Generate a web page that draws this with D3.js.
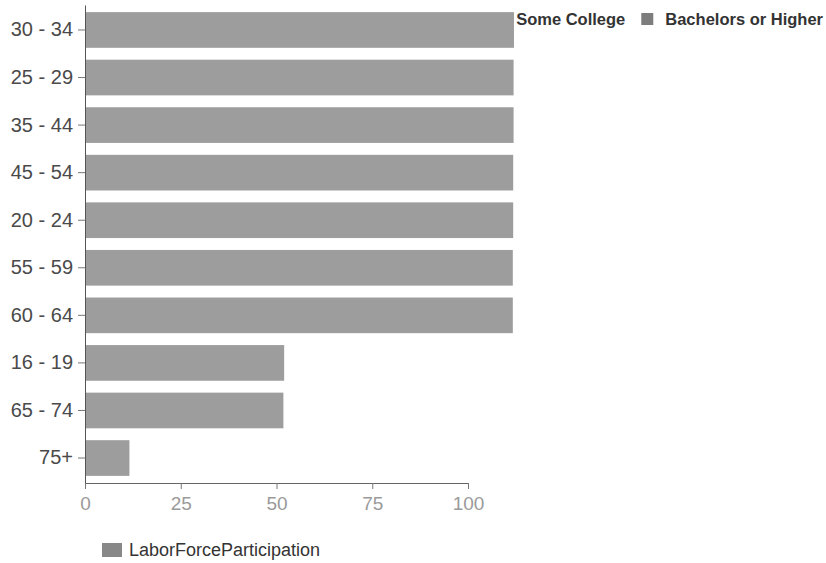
<!DOCTYPE html>
<html>
<head>
<meta charset="utf-8">
<script src="https://cdn.jsdelivr.net/npm/d3@7"></script>
<style>
  body { margin: 0; background: #fff; }
  svg { display: block; font-family: "Liberation Sans", Arial, sans-serif; }
</style>
</head>
<body>
<svg id="chart" width="826" height="563"></svg>
<script>
const ageGroups = ["30 - 34", "25 - 29", "35 - 44", "45 - 54", "20 - 24", "55 - 59", "60 - 64", "16 - 19", "65 - 74", "75+"];
const laborForceParticipation = [112.0, 111.9, 111.9, 111.8, 111.8, 111.7, 111.7, 52.0, 51.8, 11.6];
const educationSeries = ["High School", "Some College", "Bachelors or Higher"];
const xTicks = [0, 25, 50, 75, 100];
const seriesName = "LaborForceParticipation";

const svg = d3.select("#chart");
const barColor = "#9d9d9d";

const x = d3.scaleLinear().domain([0, 100]).range([85, 468]);
const y = d3.scaleBand().domain(ageGroups).range([5, 483]).paddingInner(0.25).paddingOuter(0.15);

// Top legend (drawn first, partly hidden under bars)
const legColors = ["#9d9d9d", "#9d9d9d", "#7d7d7d"];
const legFont = 16.5;
const leg = svg.append("g");
const tmp = svg.append("text").attr("font-size", legFont).attr("font-weight", "bold");
const widths = educationSeries.map(s => { tmp.text(s); return tmp.node().getComputedTextLength(); });
tmp.remove();
let cur = 823;
const positions = [];
for (let i = educationSeries.length - 1; i >= 0; i--) {
  const textX = cur - widths[i];
  const swX = textX - 24;
  positions[i] = { textX, swX };
  cur = swX - 16;
}
educationSeries.forEach((s, i) => {
  leg.append("rect").attr("x", positions[i].swX).attr("y", 13).attr("width", 12).attr("height", 12)
    .attr("fill", legColors[i]);
  leg.append("text").attr("x", positions[i].textX).attr("y", 25)
    .attr("font-size", legFont).attr("font-weight", "bold").attr("fill", "#333").text(s);
});

// Bars
svg.append("g").selectAll("rect").data(ageGroups).join("rect")
  .attr("x", x(0))
  .attr("y", d => y(d))
  .attr("width", (d, i) => x(laborForceParticipation[i]) - x(0))
  .attr("height", y.bandwidth())
  .attr("fill", barColor);

// Axes
const yAxis = svg.append("g").attr("transform", `translate(${x(0)},0)`)
  .call(d3.axisLeft(y).tickSize(7).tickSizeOuter(0).tickPadding(5));
yAxis.select(".domain").attr("stroke", "#555");
yAxis.selectAll(".tick line").attr("stroke", "#777");
yAxis.selectAll("text").attr("font-size", 20).attr("fill", "#4a4a4a").attr("font-family", "Liberation Sans, Arial, sans-serif");

const xAxis = svg.append("g").attr("transform", `translate(0,483)`)
  .call(d3.axisBottom(x).tickValues(xTicks).tickSize(6).tickSizeOuter(0).tickPadding(8));
xAxis.select(".domain").attr("stroke", "#666");
xAxis.selectAll(".tick line").attr("stroke", "#777");
xAxis.selectAll("text").attr("font-size", 19).attr("fill", "#9a9a9a").attr("font-family", "Liberation Sans, Arial, sans-serif");

// Bottom legend
svg.append("rect").attr("x", 102).attr("y", 543).attr("width", 20).attr("height", 14).attr("fill", "#888");
svg.append("text").attr("x", 129).attr("y", 556).attr("font-size", 18).attr("fill", "#333").text(seriesName);
</script>
</body>
</html>
